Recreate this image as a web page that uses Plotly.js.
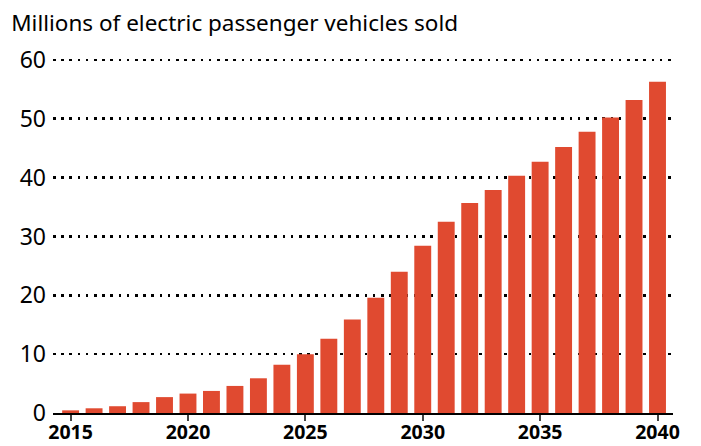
<!DOCTYPE html>
<html>
<head>
<meta charset="utf-8">
<script src="https://cdn.plot.ly/plotly-3.0.1.min.js"></script>
<style>html,body{margin:0;padding:0;background:#fff;}#chart{width:701px;height:446px;}</style>
</head>
<body>
<div id="chart"></div>
<script>
const years = [2015,2016,2017,2018,2019,2020,2021,2022,2023,2024,2025,2026,2027,2028,2029,2030,2031,2032,2033,2034,2035,2036,2037,2038,2039,2040];
const sales = [0.45,0.8,1.15,1.85,2.7,3.3,3.75,4.6,5.9,8.2,10.0,12.6,15.9,19.6,24.0,28.4,32.5,35.7,37.9,40.3,42.7,45.2,47.8,50.2,53.2,56.3];
const xTicks = [2015,2020,2025,2030,2035,2040];
const yTicks = [0,10,20,30,40,50,60];
const titleText = 'Millions of electric passenger vehicles sold';

const font = '"Noto Sans", "Open Sans", sans-serif';
Plotly.newPlot('chart', [{
  type: 'bar',
  x: years,
  y: sales,
  marker: {color: '#E04A30'},
  hoverinfo: 'x+y'
}], {
  width: 701, height: 446,
  margin: {l: 53, r: 28, t: 54, b: 33},
  paper_bgcolor: '#fff', plot_bgcolor: '#fff',
  bargap: 0.28,
  showlegend: false,
  title: {text: titleText, x: 0.016, xanchor: 'left', y: 0.948, yanchor: 'middle',
          font: {family: font, size: 22.5, color: '#000'}},
  xaxis: {
    range: [2014.25, 2040.66],
    tickvals: xTicks,
    ticktext: xTicks.map(String),
    ticks: 'outside', ticklen: 6, tickwidth: 2, tickcolor: '#444',
    ticklabelstandoff: -5,
    showline: true, linecolor: '#000', linewidth: 2,
    showgrid: false, zeroline: false,
    tickfont: {family: font, size: 19.5, color: '#000', weight: 'bold'}
  },
  yaxis: {
    range: [0, 61],
    tickvals: yTicks,
    ticks: '', ticklabelstandoff: 6,
    showgrid: true, gridcolor: '#000', gridwidth: 2.5, griddash: '2.5px,5.7px',
    zeroline: false, showline: false,
    tickfont: {family: font, size: 23, color: '#000'}
  }
}, {displayModeBar: false, staticPlot: true});
</script>
</body>
</html>
